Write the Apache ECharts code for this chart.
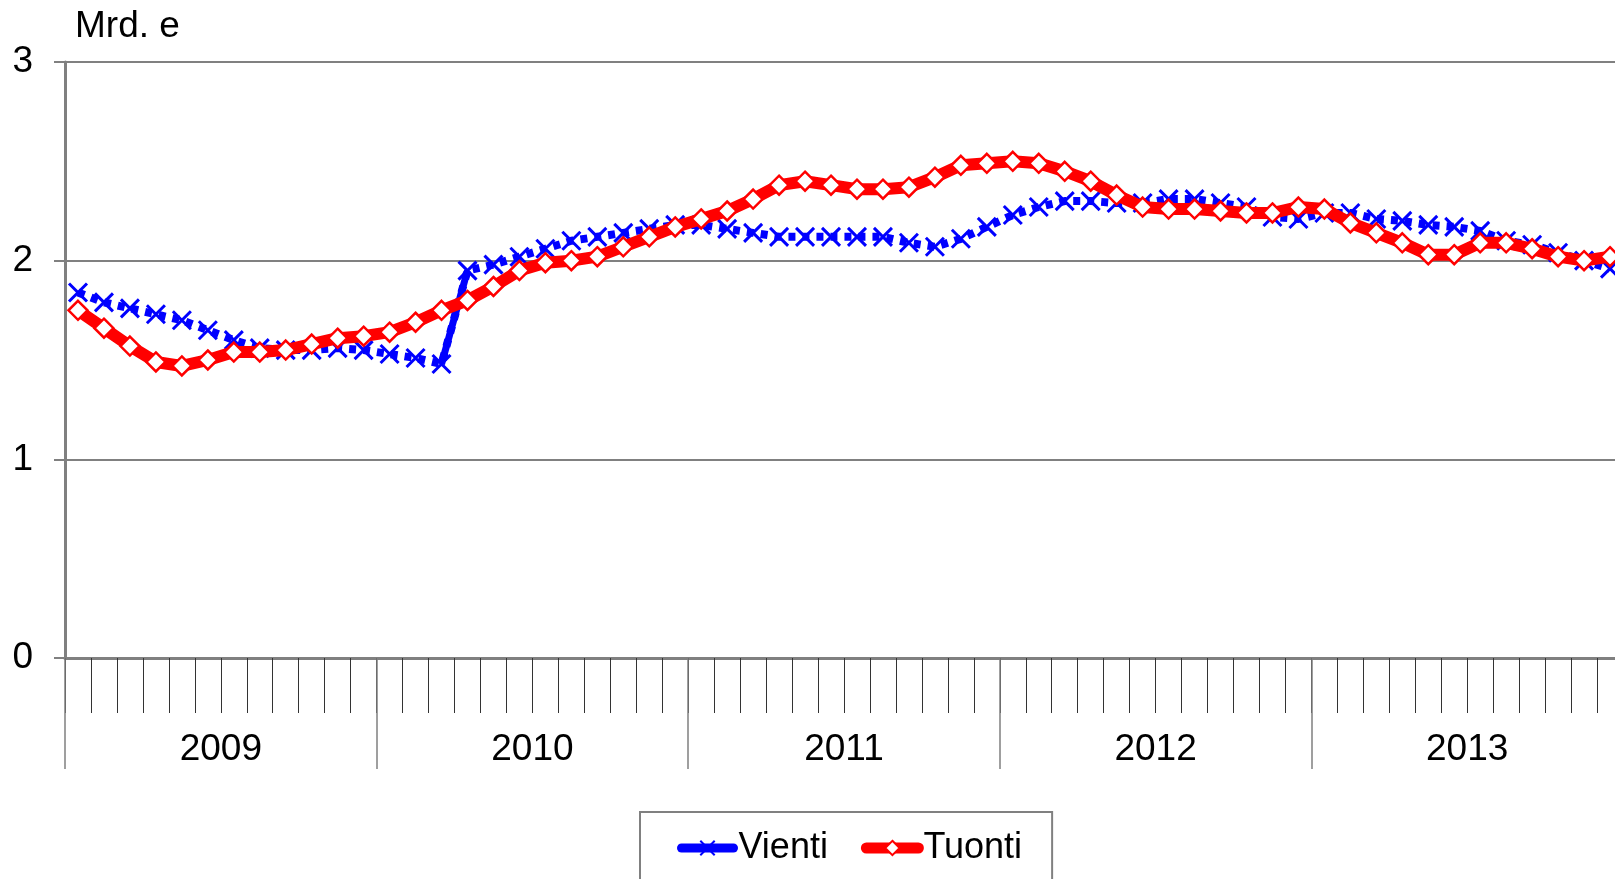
<!DOCTYPE html>
<html>
<head>
<meta charset="utf-8">
<script src="https://cdn.jsdelivr.net/npm/echarts@6/dist/echarts.min.js"></script>
<style>
  html, body { margin: 0; padding: 0; background: #fff; }
  #chart { width: 1615px; height: 879px; }
</style>
</head>
<body>
<div id="chart"></div>
<script>
// kuukaudet 2009-2013
const years = ['2009', '2010', '2011', '2012', '2013'];
const months = [];
years.forEach(y => {
  for (let m = 1; m <= 12; m++) months.push(y + '-' + m);
});

// Vienti, mrd. e
const vienti = [
  1.84, 1.79, 1.76, 1.73, 1.70, 1.65, 1.60, 1.56, 1.55, 1.55, 1.56, 1.55,
  1.53, 1.51, 1.48, 1.95, 1.98, 2.02, 2.06, 2.10, 2.12, 2.14, 2.16, 2.18,
  2.18, 2.16, 2.14, 2.12, 2.12, 2.12, 2.12, 2.12, 2.09, 2.07, 2.11, 2.17,
  2.23, 2.27, 2.30, 2.30, 2.29, 2.29, 2.31, 2.31, 2.29, 2.27, 2.22, 2.21,
  2.24, 2.24, 2.21, 2.20, 2.18, 2.17, 2.15, 2.10, 2.08, 2.04, 2.00, 1.96
];

// Tuonti, mrd. e
const tuonti = [
  1.75, 1.66, 1.57, 1.49, 1.47, 1.50, 1.54, 1.54, 1.55, 1.58, 1.61, 1.62,
  1.64, 1.69, 1.75, 1.80, 1.87, 1.95, 1.99, 2.00, 2.02, 2.07, 2.12, 2.17,
  2.21, 2.25, 2.31, 2.38, 2.40, 2.38, 2.36, 2.36, 2.37, 2.42, 2.48, 2.49,
  2.50, 2.49, 2.45, 2.40, 2.33, 2.27, 2.26, 2.26, 2.25, 2.24, 2.24, 2.27,
  2.26, 2.19, 2.14, 2.09, 2.03, 2.03, 2.09, 2.09, 2.06, 2.02, 2.00, 2.02
];

// viennin hyppy maalis-huhtikuu 2010 näkyy kuvassa yhtenäisenä viivana
const jumpIdx = [14, 15];

const FONT = '"Liberation Sans", Arial, sans-serif';
const BLUE = '#0000ff';
const RED = '#ff0000';
const GRAY = '#808080';
const CROSS = 'path://M0,0L10,10M10,0L0,10';

const chart = echarts.init(document.getElementById('chart'));

const option = {
  animation: false,
  backgroundColor: '#fff',
  textStyle: { fontFamily: FONT },
  graphic: [
    {
      type: 'text',
      left: 75,
      top: 8,
      style: { text: 'Mrd. e', fontSize: 37, fontFamily: FONT, fill: '#000' }
    }
  ],
  legend: {
    left: 640,
    top: 812,
    padding: [18, 30, 40, 37],
    itemGap: 33,
    itemWidth: 52,
    itemHeight: 18,
    borderColor: GRAY,
    borderWidth: 2,
    borderRadius: 0,
    textStyle: { fontSize: 36, color: '#000', fontFamily: FONT },
    data: [
      {
        name: 'Vienti',
        lineStyle: { type: 'solid', width: 9, cap: 'round', color: BLUE }
      },
      {
        name: 'Tuonti',
        lineStyle: { type: 'solid', width: 11, cap: 'round', color: RED }
      }
    ]
  },
  grid: {
    left: 65,
    top: 62,
    width: 1558,
    height: 596,
    containLabel: false,
    outerBoundsMode: 'none'
  },
  xAxis: [
    {
      type: 'category',
      data: months,
      boundaryGap: true,
      axisLine: { show: true, lineStyle: { color: GRAY, width: 3 } },
      axisTick: {
        show: true,
        interval: 0,
        length: 55,
        lineStyle: { color: '#333', width: 1 }
      },
      axisLabel: { show: false },
      splitLine: { show: false }
    },
    {
      type: 'category',
      data: years,
      position: 'bottom',
      boundaryGap: true,
      axisLine: { show: false },
      axisTick: {
        show: true,
        interval: 0,
        length: 111,
        lineStyle: { color: GRAY, width: 1.5 }
      },
      axisLabel: {
        show: true,
        interval: 0,
        margin: 73,
        fontSize: 37,
        color: '#000',
        fontFamily: FONT
      }
    }
  ],
  yAxis: {
    type: 'value',
    min: 0,
    max: 3,
    interval: 1,
    axisLine: { show: true, lineStyle: { color: GRAY, width: 3 } },
    axisTick: { show: true, length: 11, lineStyle: { color: GRAY, width: 2 } },
    axisLabel: { margin: 32, fontSize: 37, color: '#000', fontFamily: FONT },
    splitLine: { show: true, lineStyle: { color: GRAY, width: 2 } }
  },
  series: [
    {
      name: 'Vienti',
      type: 'line',
      data: vienti,
      z: 2,
      symbol: CROSS,
      symbolSize: 18,
      showAllSymbol: true,
      lineStyle: { color: BLUE, width: 8, type: [7, 7] },
      itemStyle: { color: BLUE, borderColor: BLUE, borderWidth: 3 }
    },
    {
      name: 'Vienti-hyppy',
      type: 'line',
      data: vienti.map((v, i) => (jumpIdx.includes(i) ? v : null)),
      z: 1,
      symbol: 'none',
      lineStyle: { color: BLUE, width: 7 },
      tooltip: { show: false }
    },
    {
      name: 'Tuonti',
      type: 'line',
      data: tuonti,
      z: 3,
      symbol: 'diamond',
      symbolSize: 19,
      showAllSymbol: true,
      lineStyle: { color: RED, width: 12 },
      itemStyle: { color: '#fff', borderColor: RED, borderWidth: 2.5 }
    }
  ]
};

chart.setOption(option);
</script>
</body>
</html>
